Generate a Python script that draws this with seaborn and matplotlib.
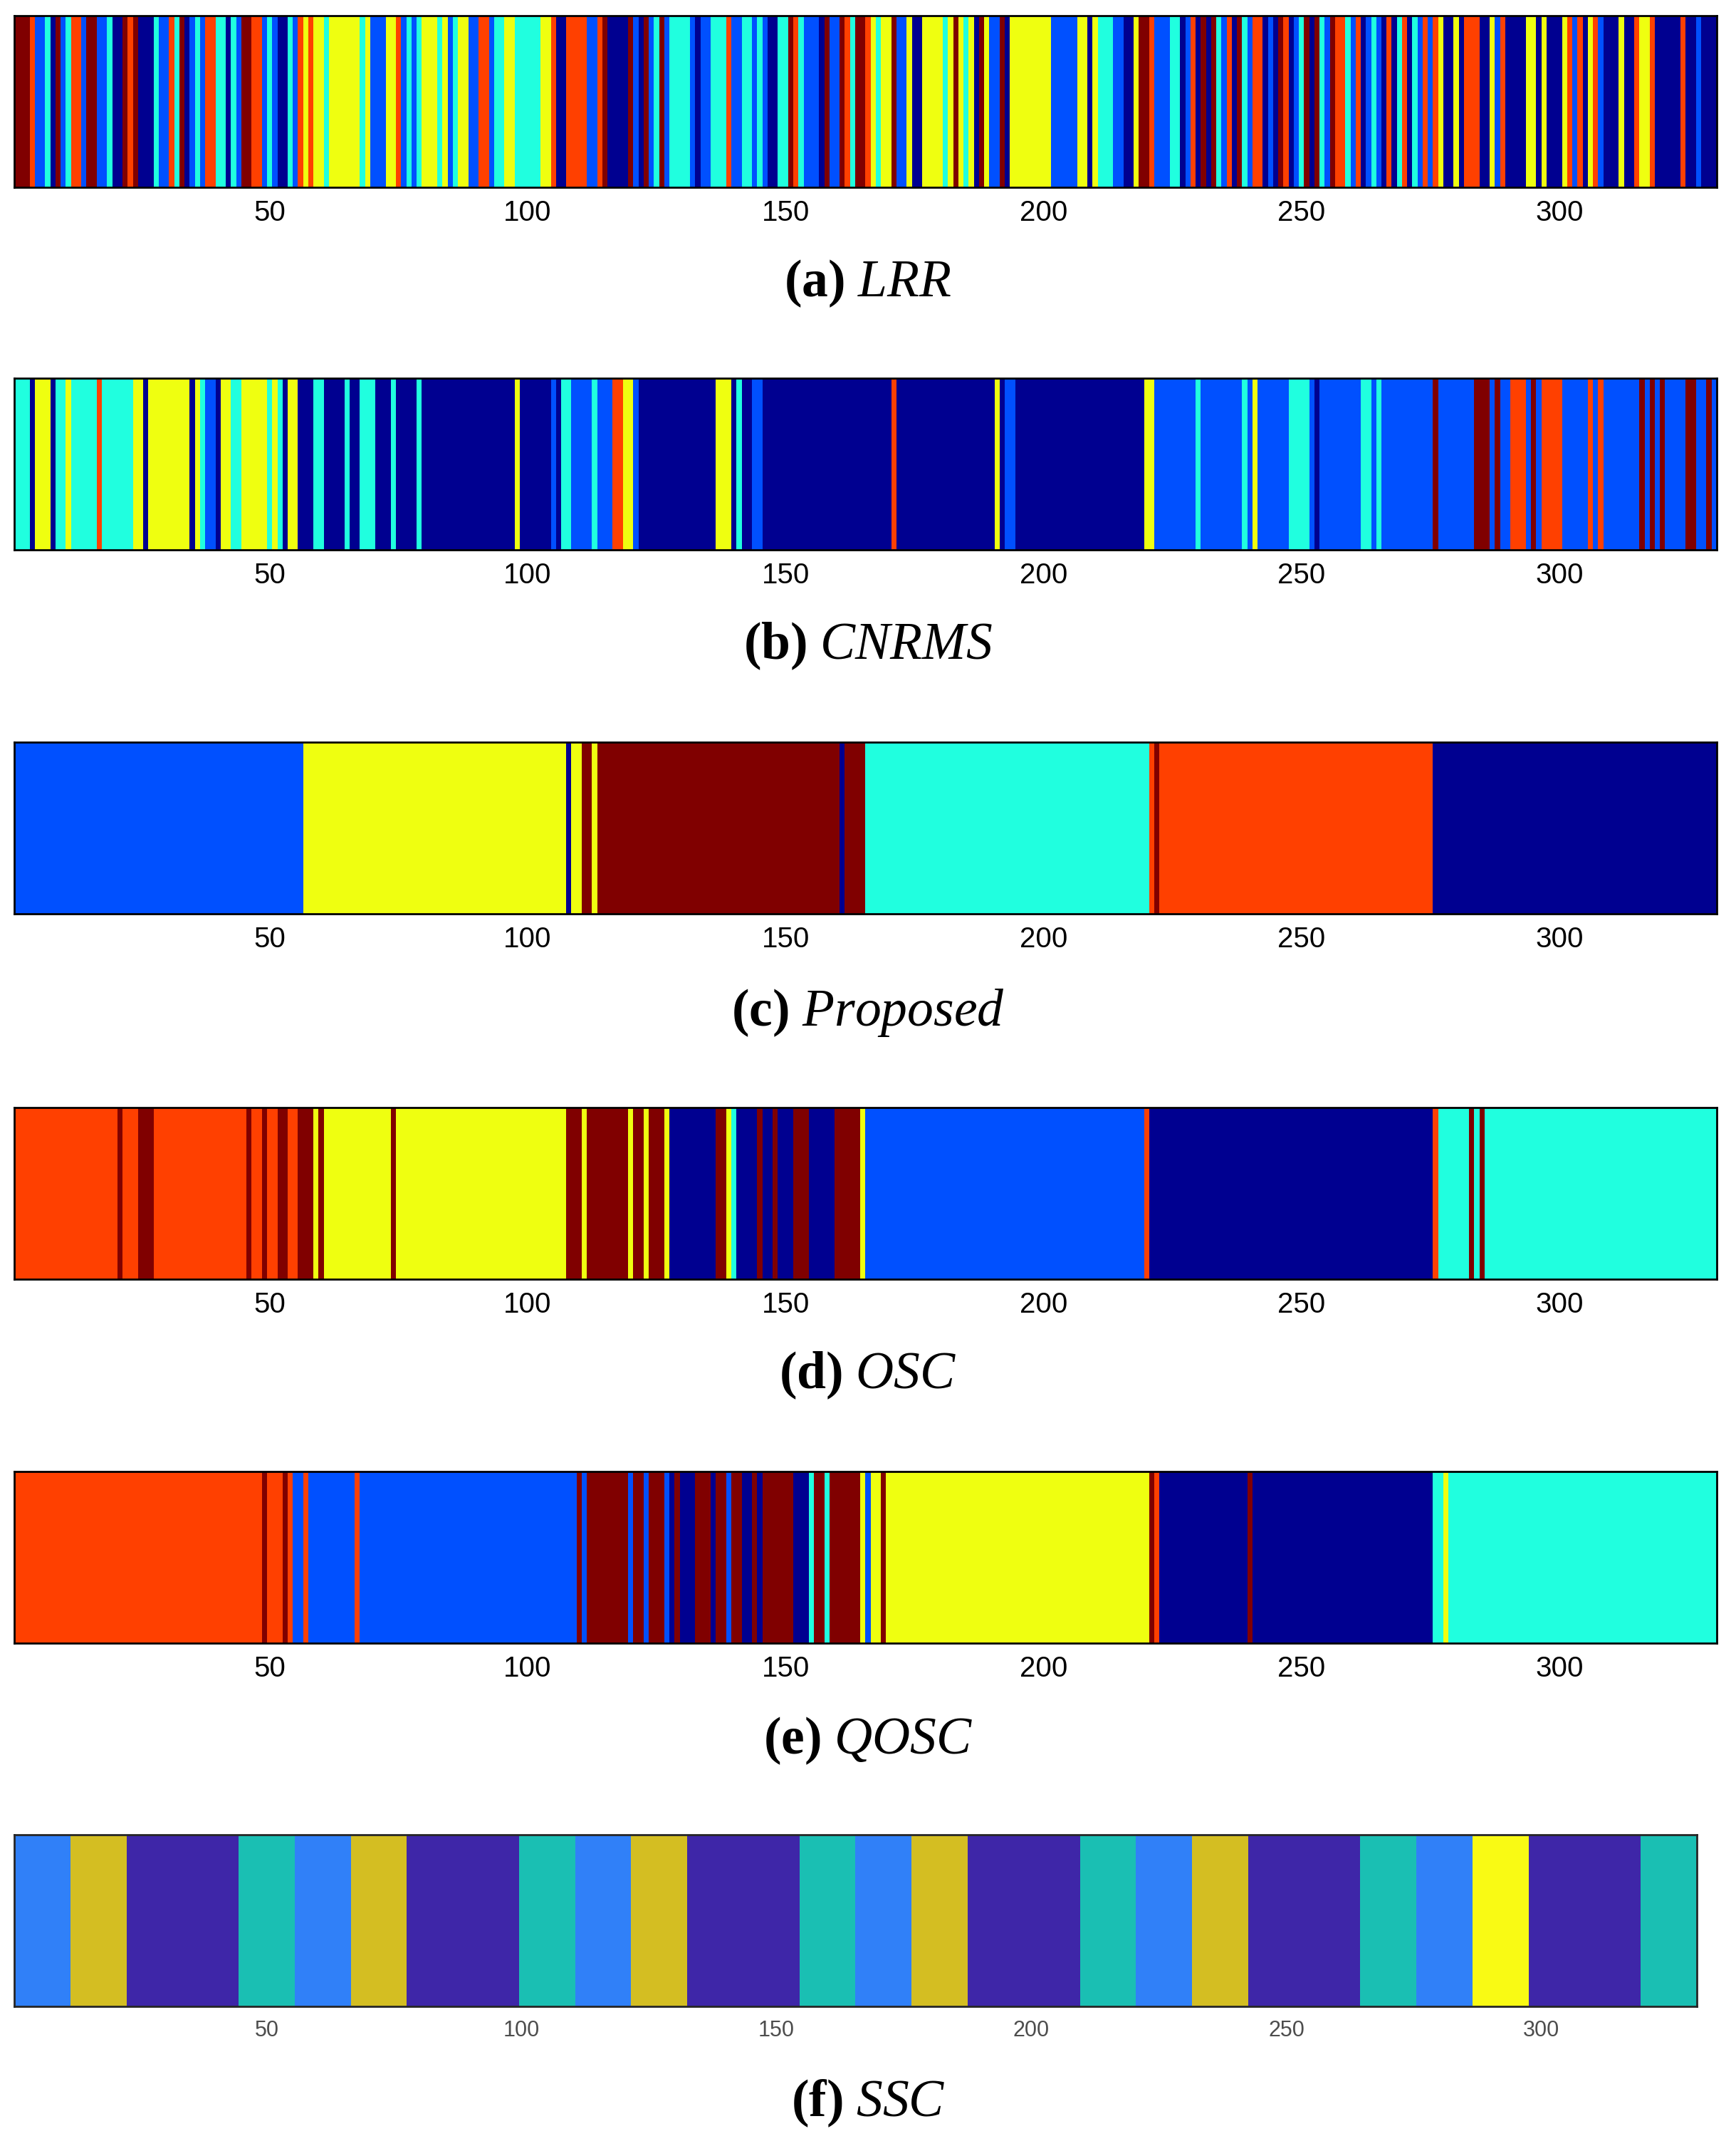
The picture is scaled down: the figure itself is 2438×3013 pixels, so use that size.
import numpy as np
import matplotlib
matplotlib.use("Agg")
import matplotlib.pyplot as plt
from matplotlib.colors import ListedColormap
import seaborn as sns

# cluster labels per sample, stored as (label, run length)
# labels: 0 navy, 1 blue, 2 cyan, 3 yellow, 4 red, 5 maroon
lrr_runs = [(5,3),(4,1),(1,2),(2,1),(0,1),(5,1),(1,1),(2,1),(4,2),(1,1),(5,2),(1,2),(2,1),(0,2),(5,1),(4,1),(5,1),(0,3),
            (2,1),(1,2),(4,1),(2,1),(5,1),(0,1),(1,1),(2,1),(1,1),(4,2),(2,2),(0,1),(2,1),(1,1),(5,2),(4,2),(1,1),(2,1),
            (1,1),(0,2),(2,1),(1,1),(4,1),(3,1),(4,1),(3,2),(2,1),(3,6),(2,1),(3,1),(1,3),(3,2),(4,1),(1,1),(2,1),(1,1),
            (2,1),(3,3),(2,1),(3,1),(1,1),(2,1),(3,2),(1,2),(4,2),(1,1),(2,2),(3,2),(2,5),(3,2),(4,1),(0,2),(4,4),
            (1,2),(4,1),(5,1),(0,4),(5,1),(1,1),(0,1),(5,1),(1,1),(2,1),(5,1),(1,1),(2,4),(1,1),(0,1),(1,2),(2,3),(4,1),
            (1,2),(2,2),(1,1),(2,1),(1,1),(0,2),(2,2),(5,1),(4,1),(2,1),(1,3),(0,1),(5,1),(1,2),(5,1),(4,1),(2,1),(5,2),
            (4,1),(3,1),(2,1),(3,2),(5,1),(1,2),(3,1),(0,2),(3,4),(2,1),(3,1),(5,1),(3,1),(2,1),(3,1),(0,1),(5,1),(3,1),
            (1,2),(5,1),(0,1),(3,8),(1,5),(3,2),(0,1),(3,1),(2,3),(1,2),(0,2),(3,1),(5,2),
            (4,1),(1,3),(2,2),(0,1),(1,1),(4,1),(0,1),(5,1),(0,1),(5,1),(2,1),(1,1),(4,1),(0,1),(5,1),(2,1),(1,1),(4,2),
            (0,1),(1,1),(0,1),(5,1),(4,1),(0,1),(1,1),(2,1),(5,1),(0,1),(5,1),(2,1),(1,1),(5,1),(4,2),(2,1),(1,1),(4,1),
            (0,1),(1,1),(2,1),(1,1),(0,1),(4,1),(0,1),(2,1),(4,1),(0,1),(2,1),(1,1),(4,1),(1,1),(4,1),(3,1),(0,2),(3,1),
            (0,1),(4,3),(0,2),(3,1),(1,1),(4,1),(0,4),(3,2),(0,1),(3,1),(0,3),(3,1),(4,1),(1,1),(4,1),(0,1),(3,1),(4,1),
            (1,1),(0,3),(3,1),(0,2),(4,1),(3,2),(4,1),(0,5),(4,1),(0,2),(1,1),(0,3)]

cnrms_runs = [(2,3),(0,1),(3,3),(0,1),(2,2),(3,1),(2,5),(4,1),(2,6),(3,2),(0,1),(3,8),(0,1),(3,1),(2,1),(1,2),(0,1),
              (3,2),(2,2),(3,5),(2,1),(3,1),(2,1),(0,1),(3,2),(0,3),(2,2),(0,4),(2,1),(0,2),(2,3),(0,3),(2,1),(0,4),
              (2,1),(0,18),(3,1),(0,6),(1,1),(0,1),(2,2),(1,3),
              (1,1),(2,1),(1,3),(4,2),(3,2),(1,1),(0,15),(3,3),(0,1),(2,1),(0,2),(1,2),(0,25),(4,1),(0,19),(3,1),
              (0,1),(1,2),(0,25),(3,1),
              (3,1),(1,8),(2,1),(1,8),(2,1),(1,1),(3,1),(1,6),(2,4),(1,1),(0,1),(1,8),(2,2),(1,1),(2,1),(1,10),(5,1),
              (1,7),(5,3),(1,1),(5,1),(1,2),(4,3),(1,1),(5,1),(1,1),(4,4),(1,5),(4,1),(1,1),(4,1),(1,7),(5,1),(1,1),
              (5,1),(1,1),(5,1),(1,4),(5,2),(1,2),(5,1),(1,1)]

proposed_runs = [(1,56),(3,51),(0,1),(3,2),(5,2),(3,1),(5,47),(0,1),(5,4),(2,55),(4,1),(5,1),(4,53),(0,55)]

osc_runs = [(4,20),(5,1),(4,3),(5,3),(4,18),(5,1),(4,2),(5,1),(4,2),(5,2),(4,2),(5,3),(3,1),(5,1),(3,13),(5,1),
            (3,33),(5,3),(3,1),(5,8),(3,1),(5,2),(3,1),(5,3),(3,1),(0,9),(5,2),(3,1),(2,1),(0,4),(5,1),(0,2),(5,1),
            (0,3),(5,3),(0,5),(5,5),(3,1),(1,54),(4,1),(0,55),(4,1),(2,6),(5,1),(2,1),(5,1),(2,45)]

qosc_runs = [(4,48),(5,1),(4,3),(5,1),(4,1),(1,2),(4,1),(1,9),(4,1),(1,42),(5,1),(1,1),(5,8),(1,1),(5,2),(1,1),
             (5,3),(1,1),(0,1),(5,1),(0,3),(5,3),(0,1),(5,2),(1,1),(5,2),(0,2),(5,1),(0,1),(5,6),(0,3),(2,1),(5,2),
             (2,1),(5,6),(3,1),(1,1),(3,2),(5,1),(3,51),(5,1),(4,1),(0,17),(5,1),(0,35),(2,2),(3,1),(2,52)]

# SSC labels: 0 purple, 1 blue, 2 teal, 3 ochre, 4 yellow
ssc_runs = [(1,11),(3,11),(0,22),(2,11),(1,11),(3,11),(0,22),(2,11),(1,11),(3,11),(0,22),(2,11),
            (1,11),(3,11),(0,22),(2,11),(1,11),(3,11),(0,22),(2,11),(1,11),(4,11),(0,22),(2,11)]

tick_vals = [50, 100, 150, 200, 250, 300]
tags = ["(a)", "(b)", "(c)", "(d)", "(e)", "(f)"]
names = ["LRR", "CNRMS", "Proposed", "OSC", "QOSC", "SSC"]

jet6 = ListedColormap(["#000090", "#0050FF", "#20FFDF", "#EFFF10", "#FF4000", "#800000"])
parula5 = ListedColormap(["#3E26A8", "#3080F8", "#1ABFB3", "#D4BE22", "#F9FA14"])

sns.set_style("white")
plt.rcParams["font.family"] = ["Liberation Sans", "DejaVu Sans"]
plt.rcParams["text.color"] = "black"
plt.rcParams["mathtext.fontset"] = "custom"
plt.rcParams["mathtext.rm"] = "Liberation Serif"
plt.rcParams["mathtext.bf"] = "Liberation Serif:bold"
plt.rcParams["mathtext.it"] = "Liberation Serif:italic"

def expand(runs):
    labels = [lab for lab, n in runs]
    counts = [n for lab, n in runs]
    return np.repeat(labels, counts)[None, :]

fig = plt.figure(figsize=(24.38, 30.13), dpi=100)

panels = [lrr_runs, cnrms_runs, proposed_runs, osc_runs, qosc_runs, ssc_runs]
bottoms = [0.9127, 0.7438, 0.5742, 0.4039, 0.2343, 0.0651]
cap_y = [0.8679, 0.6990, 0.5280, 0.3591, 0.1888, 0.0199]

for i, runs in enumerate(panels):
    last = i == 5
    width = 0.9692 if last else 0.9807
    ax = fig.add_axes([0.0082, bottoms[i], width, 0.080])
    data = expand(runs)
    if last:
        sns.heatmap(data, ax=ax, cmap=parula5, vmin=-0.5, vmax=4.5, cbar=False,
                    xticklabels=False, yticklabels=False)
    else:
        sns.heatmap(data, ax=ax, cmap=jet6, vmin=-0.5, vmax=5.5, cbar=False,
                    xticklabels=False, yticklabels=False)
    ax.set_xticks(np.array(tick_vals) - 0.5)
    ax.set_xticklabels([str(t) for t in tick_vals])
    ax.set_yticks([])
    for s in ax.spines.values():
        s.set_visible(True)
        s.set_linewidth(2.0)
        s.set_color("#262626" if last else "black")
    if last:
        ax.tick_params(axis="x", direction="in", length=18, width=1.5, top=True, bottom=True,
                       labelsize=22, labelcolor="#4d4d4d", color="#222222", pad=14)
    else:
        ax.tick_params(axis="x", direction="in", length=20, width=1.5, top=True, bottom=True,
                       labelsize=29, labelcolor="black", color="black", pad=12)
    fig.text(0.5, cap_y[i], r"$\mathbf{%s}\ \mathit{%s}$" % (tags[i], names[i]),
             ha="center", va="center", fontsize=53, color="black")

fig.savefig("out.png", dpi=100)
